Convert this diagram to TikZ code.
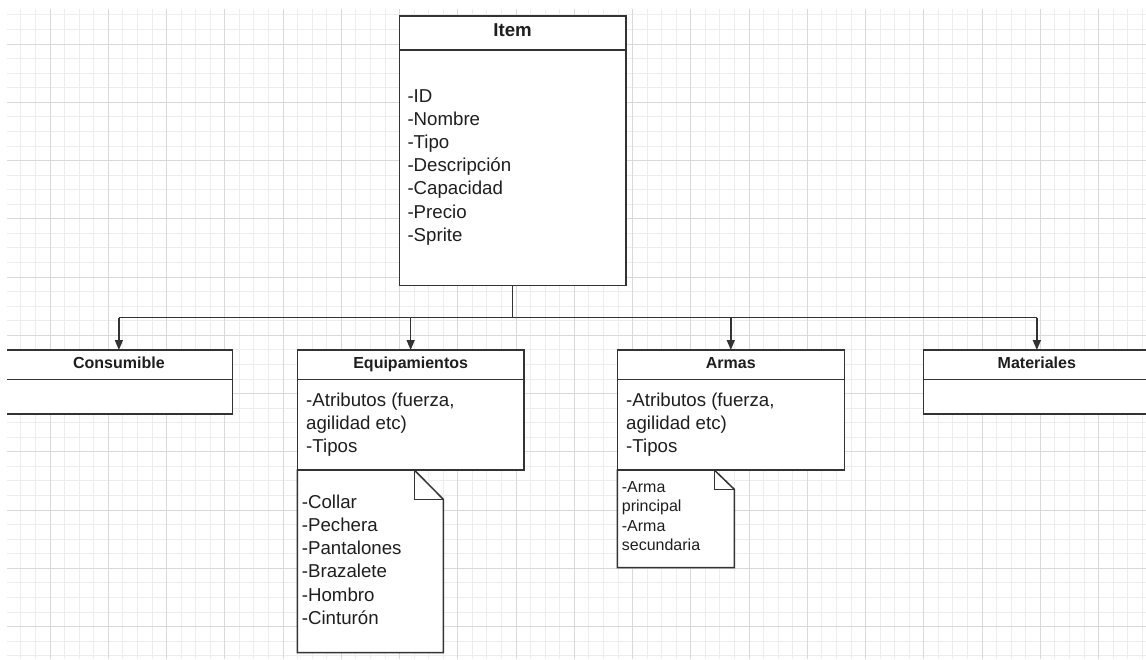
\documentclass[tikz,border=0pt]{standalone}
\usepackage{fontspec}
\setmainfont{Liberation Sans}
\usetikzlibrary{arrows.meta}
\definecolor{gridminor}{HTML}{EDEDED}
\definecolor{gridmajor}{HTML}{D9D9D9}
\definecolor{edge}{HTML}{333333}
\definecolor{ink}{HTML}{1E1E1E}

\begin{document}
\begin{tikzpicture}[x=1pt,y=-1pt,
  classbox/.style={draw=edge, line width=1.5pt, fill=white, rectangle,
    inner sep=0pt, outer sep=0pt, anchor=north west},
  divider/.style={draw=edge, line width=1.5pt},
  notebox/.style={draw=edge, line width=1.5pt, fill=white, line join=miter},
  link/.style={draw=edge, line width=1.5pt},
  arrowlink/.style={link, -{Triangle[length=10pt,width=8pt]}},
  headbig/.style={anchor=base, inner sep=0pt, text=ink,
    font=\fontsize{18.67}{22}\selectfont\bfseries},
  head/.style={anchor=base, inner sep=0pt, text=ink,
    font=\fontsize{16}{19}\selectfont\bfseries},
  bodytext/.style={anchor=base west, inner sep=0pt, text=ink,
    font=\fontsize{18.67}{23}\selectfont},
  smalltext/.style={anchor=base west, inner sep=0pt, text=ink,
    font=\fontsize{16}{19}\selectfont},
]
\useasboundingbox (0,0) rectangle (1146,659);
\clip (0,0) rectangle (1146,659);
\fill[white] (0,0) rectangle (1146,659);

% background grid
\begin{scope}
  \clip (7,9) rectangle (1146,659);
  \foreach \i in {0,...,79}
    \draw[gridminor, line width=0.8pt] ({6.31+14.5625*\i},9) -- ++(0,650);
  \foreach \j in {0,...,44}
    \draw[gridminor, line width=0.8pt] (7,{14.875+14.5625*\j}) -- ++(1139,0);
  \foreach \i in {0,...,19}
    \draw[gridmajor, line width=0.8pt] ({50+58.25*\i},9) -- ++(0,650);
  \foreach \j in {0,...,10}
    \draw[gridmajor, line width=0.8pt] (7,{44+58.25*\j}) -- ++(1139,0);
\end{scope}

% base class
\node[classbox, minimum width=226.7pt, minimum height=269.3pt] (item) at (399.3,16) {};
\draw[divider] (item.north west) ++(0,34) -- ++(226.7,0);
\node[headbig] (itemhead) at (512.65,36.7) {Item};
\foreach \t [count=\k] in {{-ID},{-Nombre},{-Tipo},{-Descripción},{-Capacidad},{-Precio},{-Sprite}}
  \node[bodytext] (itemattr\k) at (407.3,{102+23.2*(\k-1)}) {\t};

% derived classes (the leftmost one runs past the left edge of the sheet)
\begin{scope}
  \clip (7,0) rectangle (1146,659);
  \node[classbox, minimum width=226.8pt, minimum height=64pt] (cons) at (5.5,350) {};
  \draw[divider] (cons.north west) ++(0,29.3) -- ++(226.8,0);
\end{scope}
\node[head] (conshead) at (118.9,368) {Consumible};

\node[classbox, minimum width=226.7pt, minimum height=120pt] (equip) at (297.3,350) {};
\draw[divider] (equip.north west) ++(0,29.3) -- ++(226.7,0);
\node[head] (equiphead) at (410.65,368) {Equipamientos};
\foreach \t [count=\k] in {{-Atributos (fuerza,},{agilidad etc)},{-Tipos}}
  \node[bodytext] (equipattr\k) at (306,{406+23*(\k-1)}) {\t};

\node[classbox, minimum width=227pt, minimum height=120pt] (armas) at (617.3,350) {};
\draw[divider] (armas.north west) ++(0,29.3) -- ++(227,0);
\node[head] (armashead) at (730.8,368) {Armas};
\foreach \t [count=\k] in {{-Atributos (fuerza,},{agilidad etc)},{-Tipos}}
  \node[bodytext] (armasattr\k) at (626,{406+23*(\k-1)}) {\t};

% the rightmost class runs past the right edge of the sheet
\node[classbox, minimum width=226.7pt, minimum height=64pt] (mat) at (923.5,350) {};
\draw[divider] (mat.north west) ++(0,29.3) -- ++(226.7,0);
\node[head] (mathead) at (1036.85,368) {Materiales};

% notes
\draw[notebox] (equip.south west) -- ++(117,0) -- ++(29,29.3)
  -- (443.3,652.7) -- (297.3,652.7) -- cycle;
\draw[notebox, fill=none] (equip.south west) ++(117,0) -- ++(0,29.3) -- ++(29,0);
\foreach \t [count=\k] in {{-Collar},{-Pechera},{-Pantalones},{-Brazalete},{-Hombro},{-Cinturón}}
  \node[bodytext] (equipnote\k) at (301.7,{508.3+23.2*(\k-1)}) {\t};

\draw[notebox] (armas.south west) -- ++(97,0) -- ++(20,19.3)
  -- (734.3,567.7) -- (617.3,567.7) -- cycle;
\draw[notebox, fill=none] (armas.south west) ++(97,0) -- ++(0,19.3) -- ++(20,0);
\foreach \t [count=\k] in {{-Arma},{principal},{-Arma},{secundaria}}
  \node[smalltext] (armasnote\k) at (621.7,{492.7+19.2*(\k-1)}) {\t};

% inheritance connectors
\coordinate (bus) at (512.65,317.5);
\draw[link] (item.south) -- (bus);
\draw[link] (cons.north |- bus) -- (mat.north |- bus);
\draw[arrowlink] (cons.north |- bus) -- (cons.north);
\draw[arrowlink] (equip.north |- bus) -- (equip.north);
\draw[arrowlink] (armas.north |- bus) -- (armas.north);
\draw[arrowlink] (mat.north |- bus) -- (mat.north);
\end{tikzpicture}
\end{document}
